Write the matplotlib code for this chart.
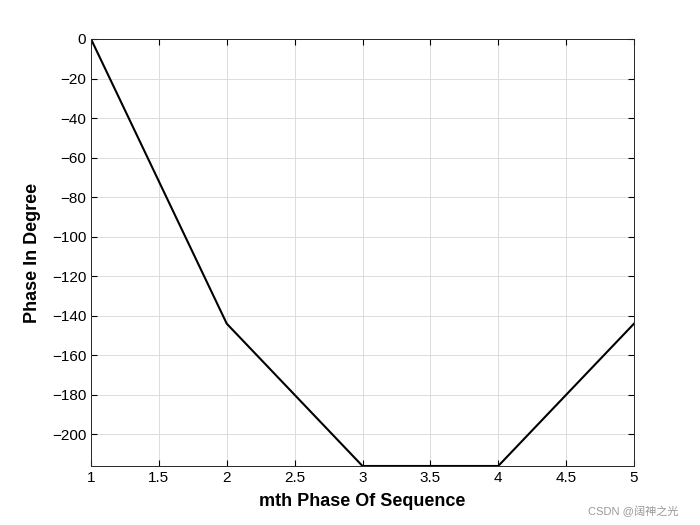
import matplotlib
matplotlib.use('Agg')
import matplotlib.pyplot as plt

# phase sequence (degrees)
m = [1, 2, 3, 4, 5]
phase = [0, -144, -216, -216, -144]
xticks = [1, 1.5, 2, 2.5, 3, 3.5, 4, 4.5, 5]
yticks = list(range(0, -201, -20))

plt.rcParams['font.family'] = ['Liberation Sans', 'Noto Sans CJK SC', 'DejaVu Sans']

fig = plt.figure(figsize=(7, 5.25), dpi=100)
ax = fig.add_axes([91/700, 1-466/525, (634-91)/700, (466-39)/525])
ax.plot(m, phase, color='black', linewidth=1.5)
ax.set_xlim(1, 5)
ax.set_ylim(-216, 0)
ax.set_xticks(xticks)
ax.set_xticklabels([f'{v:g}' for v in xticks])
ax.set_yticks(yticks)
ax.grid(True, color='#dcdcdc', linewidth=0.7)
ax.tick_params(direction='in', labelsize=11, top=True, right=True, length=4)
for s in ax.spines.values():
    s.set_color('#262626')
    s.set_linewidth(0.7)
ax.set_xlabel('mth Phase Of Sequence', fontsize=13, fontweight='bold', labelpad=6)
ax.set_ylabel('Phase In Degree', fontsize=13, fontweight='bold', labelpad=8)
fig.text(0.84, 0.018, 'CSDN @阔神之光', fontsize=8, color='#999999')
fig.savefig('out.png', dpi=100)
